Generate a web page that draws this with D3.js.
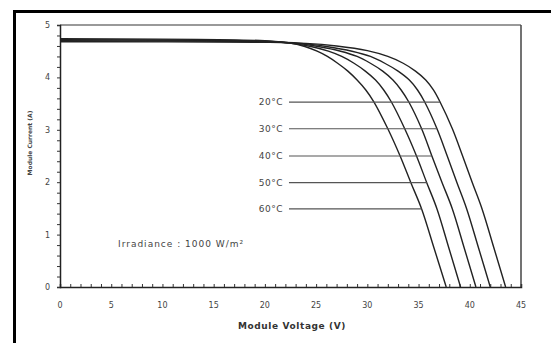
<!DOCTYPE html>
<html>
<head>
<meta charset="utf-8">
<script src="https://cdn.jsdelivr.net/npm/d3@7"></script>
<style>
  body { margin: 0; background: #fff; }
  svg { display: block; }
</style>
</head>
<body>
<svg id="chart" width="551" height="343"></svg>
<script>
// curve data: [voltage (V), current (A)]
var temperatures = ["20°C", "30°C", "40°C", "50°C", "60°C"];
var curve20 = [[0,4.68],[20,4.67],[24,4.65],[27,4.60],[30,4.51],[32,4.40],[33.5,4.27],[34.7,4.12],[35.7,3.95],[36.45,3.76],[37.1,3.53],[38.3,3.02],[39.3,2.50],[40.25,1.99],[41.2,1.49],[42.35,0.75],[43.5,0]];
var curve30 = [[0,4.69],[20,4.68],[23.5,4.65],[26.0,4.59],[28.5,4.50],[30.3,4.40],[31.7,4.27],[33.0,4.12],[34.1,3.95],[34.9,3.76],[35.6,3.53],[36.8,3.02],[37.8,2.50],[38.75,1.99],[39.7,1.49],[40.85,0.75],[42.0,0]];
var curve40 = [[0,4.71],[20,4.69],[23.0,4.65],[25.2,4.59],[27.4,4.50],[29.0,4.40],[30.3,4.27],[31.5,4.12],[32.5,3.95],[33.3,3.76],[34.05,3.53],[35.3,3.02],[36.3,2.50],[37.3,1.99],[38.3,1.49],[39.45,0.75],[40.6,0]];
var curve50 = [[0,4.72],[20,4.69],[22.6,4.65],[24.5,4.59],[26.2,4.50],[27.5,4.40],[28.7,4.27],[29.8,4.12],[30.8,3.95],[31.6,3.76],[32.35,3.53],[33.65,3.02],[34.8,2.50],[35.8,1.99],[36.8,1.49],[37.95,0.75],[39.1,0]];
var curve60 = [[0,4.74],[20,4.70],[22.3,4.66],[23.9,4.59],[25.1,4.50],[26.1,4.40],[27.1,4.27],[28.1,4.12],[29.0,3.95],[29.85,3.76],[30.65,3.53],[32.0,3.02],[33.2,2.50],[34.25,1.99],[35.3,1.49],[36.5,0.75],[37.7,0]];
var curves = [curve20, curve30, curve40, curve50, curve60];

// leader lines: current level and the voltage where each meets its curve
var labelCurrents = [3.53, 3.02, 2.50, 1.99, 1.49];
var labelVoltages = [37.1, 36.8, 36.3, 35.8, 35.3];
var leaderStartV = 22.35;

var xTicks = [0, 5, 10, 15, 20, 25, 30, 35, 40, 45];
var yTicks = [0, 1, 2, 3, 4, 5];
var irradianceText = "Irradiance : 1000 W/m\u00B2";

var svg = d3.select("#chart");
var plotLeft = 60, plotRight = 521, plotTop = 25, plotBottom = 287;

var x = d3.scaleLinear().domain([0, 45]).range([plotLeft, plotRight]);
var y = d3.scaleLinear().domain([0, 5]).range([plotBottom, plotTop]);

// outer frame
svg.append("line").attr("x1", 13).attr("x2", 551).attr("y1", 11.5).attr("y2", 11.5)
  .attr("stroke", "#000").attr("stroke-width", 3);
svg.append("line").attr("x1", 14.5).attr("x2", 14.5).attr("y1", 10).attr("y2", 343)
  .attr("stroke", "#000").attr("stroke-width", 3);

// plot box top and right
svg.append("line").attr("x1", plotLeft).attr("x2", plotRight).attr("y1", plotTop).attr("y2", plotTop)
  .attr("stroke", "#777").attr("stroke-width", 1.5);
svg.append("line").attr("x1", plotRight).attr("x2", plotRight).attr("y1", plotTop).attr("y2", plotBottom)
  .attr("stroke", "#444").attr("stroke-width", 1.5);

// x axis: minor ticks inward every volt
var xAxis = d3.axisBottom(x).tickValues(d3.range(0, 46, 1)).tickSize(-3).tickFormat("");
var gx = svg.append("g").attr("transform", "translate(0," + plotBottom + ")").call(xAxis);
gx.select(".domain").attr("stroke", "#222").attr("stroke-width", 1.5);
gx.selectAll(".tick line").attr("stroke", "#333").attr("stroke-width", 1);

svg.selectAll(".x-label").data(xTicks).enter().append("text")
  .attr("x", d => x(d)).attr("y", 308)
  .attr("text-anchor", "middle")
  .style("font-family", "DejaVu Sans").style("font-size", "8px").attr("fill", "#444")
  .text(d => d);

// y axis: minor ticks outward every 0.2 A
var yAxis = d3.axisLeft(y).tickValues(d3.range(0, 5.01, 0.2)).tickSize(3).tickFormat("");
var gy = svg.append("g").attr("transform", "translate(" + plotLeft + ",0)").call(yAxis);
gy.select(".domain").attr("stroke", "#222").attr("stroke-width", 1.5);
gy.selectAll(".tick line").attr("stroke", "#333").attr("stroke-width", 1);

svg.selectAll(".y-label").data(yTicks).enter().append("text")
  .attr("x", 50).attr("y", d => y(d) + 3)
  .attr("text-anchor", "end")
  .style("font-family", "DejaVu Sans").style("font-size", "8px").attr("fill", "#444")
  .text(d => d);

// axis titles
svg.append("text")
  .attr("x", 292).attr("y", 329)
  .attr("text-anchor", "middle")
  .style("font-family", "DejaVu Sans").style("font-size", "9px").style("font-weight", "bold")
  .style("letter-spacing", "0.6px").attr("fill", "#333")
  .text("Module Voltage (V)");

svg.append("text")
  .attr("transform", "translate(32,143) rotate(-90)")
  .attr("text-anchor", "middle")
  .style("font-family", "DejaVu Sans").style("font-size", "6px").style("font-weight", "bold")
  .attr("fill", "#444")
  .text("Module Current (A)");

// curves
var line = d3.line()
  .x(d => x(d[0])).y(d => y(d[1]))
  .curve(d3.curveCatmullRom.alpha(0.5));

svg.selectAll(".iv").data(curves).enter().append("path")
  .attr("d", line)
  .attr("fill", "none")
  .attr("stroke", "#222")
  .attr("stroke-width", 1.4);

// leader lines and temperature labels
svg.selectAll(".leader").data(labelCurrents).enter().append("line")
  .attr("x1", x(leaderStartV)).attr("x2", (d, i) => x(labelVoltages[i]))
  .attr("y1", d => y(d)).attr("y2", d => y(d))
  .attr("stroke", "#555").attr("stroke-width", 1.2);

svg.selectAll(".temp").data(temperatures).enter().append("text")
  .attr("x", 283).attr("y", (d, i) => y(labelCurrents[i]) + 3)
  .attr("text-anchor", "end")
  .style("font-family", "DejaVu Sans").style("font-size", "9px")
  .style("letter-spacing", "0.5px").attr("fill", "#444")
  .text(d => d);

svg.append("text")
  .attr("x", 118).attr("y", 247)
  .style("font-family", "DejaVu Sans").style("font-size", "9px")
  .style("letter-spacing", "1px").attr("fill", "#444")
  .text(irradianceText);
</script>
</body>
</html>
